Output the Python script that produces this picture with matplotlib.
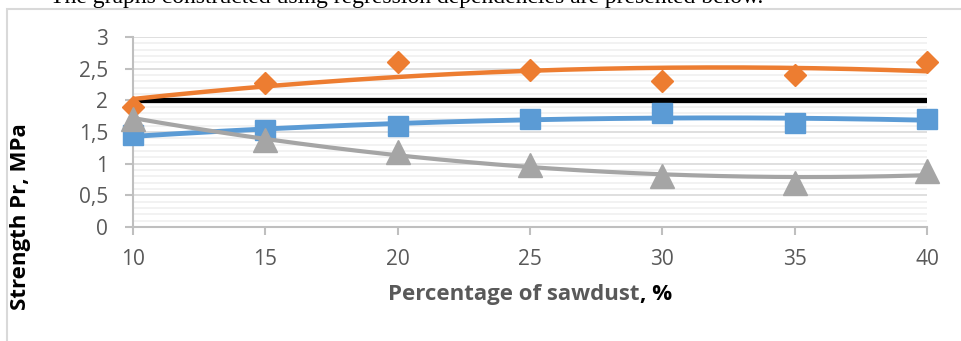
import numpy as np
import matplotlib
matplotlib.use('Agg')
from matplotlib import pyplot as plt
from matplotlib.patches import Rectangle
from matplotlib.ticker import MultipleLocator

# data
sawdust = [10, 15, 20, 25, 30, 35, 40]
orange_vals = [1.9, 2.28, 2.6, 2.48, 2.3, 2.4, 2.6]
blue_vals = [1.45, 1.53, 1.6, 1.7, 1.8, 1.65, 1.7]
gray_vals = [1.7, 1.38, 1.19, 0.98, 0.8, 0.7, 0.88]
black_vals = [2, 2, 2, 2, 2, 2, 2]
yticks = [0, 0.5, 1, 1.5, 2, 2.5, 3]
ytick_labels = ['0', '0,5', '1', '1,5', '2', '2,5', '3']
xticks = [10, 15, 20, 25, 30, 35, 40]

tick_col = '#595959'
grid_col = '#d9d9d9'
minor_col = '#f0f0f0'

fig = plt.figure(figsize=(9.62, 3.41), dpi=100)

# paper text cut off at the top (as in the source)
fig.text(50 / 962, 1 - 3 / 341,
         'The graphs constructed using regression dependencies are presented below.',
         family='Liberation Serif', fontsize=17, va='baseline', ha='left')

# chart frame
fig.patches.append(Rectangle((7 / 962, -0.1), 1.2, 1 - 8.5 / 341 + 0.1,
                             transform=fig.transFigure, fill=False,
                             edgecolor=grid_col, lw=1.5))

ax = fig.add_axes([133 / 962, 1 - 227 / 341, (927 - 133) / 962, (227 - 37) / 341])

x = np.array(sawdust, dtype=float)
xs = np.linspace(10, 40, 200)

def trend(vals):
    # polynomial trend line (2nd order) like excel
    p = np.polyfit(x, vals, 2)
    return np.polyval(p, xs)

ax.plot(x, black_vals, color='black', lw=3.8, solid_capstyle='round', zorder=3)

ax.plot(xs, trend(blue_vals), color='#5B9BD5', lw=3.5, zorder=4)
ax.plot(x, blue_vals, 's', color='#5B9BD5', ms=14, zorder=4, clip_on=False)

ax.plot(xs, trend(orange_vals), color='#ED7D31', lw=3.2, zorder=5)
ax.plot(x, orange_vals, 'D', color='#ED7D31', ms=11, zorder=5, clip_on=False)

ax.plot(xs, trend(gray_vals), color='#A5A5A5', lw=3, zorder=6)
ax.plot(x, gray_vals, '^', color='#A5A5A5', ms=17, zorder=6, clip_on=False)

ax.set_xlim(10, 40)
ax.set_ylim(0, 3)
ax.set_xticks(xticks)
ax.set_yticks(yticks)
ax.set_yticklabels(ytick_labels)
ax.yaxis.set_minor_locator(MultipleLocator(0.1))
ax.grid(True, which='major', axis='y', color=grid_col, lw=1.2)
ax.grid(True, which='minor', axis='y', color=minor_col, lw=1.2)
ax.set_axisbelow(True)

for s in ['top', 'right']:
    ax.spines[s].set_visible(False)
for s in ['left', 'bottom']:
    ax.spines[s].set_color('#bfbfbf')
    ax.spines[s].set_linewidth(1.5)

ax.tick_params(axis='both', which='major', colors='#bfbfbf', labelcolor=tick_col,
               labelsize=15, length=6, width=1.5)
ax.tick_params(axis='x', pad=10)
ax.tick_params(axis='y', pad=12)
ax.tick_params(which='minor', length=0)
for lab in ax.get_xticklabels() + ax.get_yticklabels():
    lab.set_family('Open Sans')

# axis titles, the x title has a black ", %" tail
xt = fig.text(388 / 962, 1 - 300 / 341, 'Percentage of sawdust', family='Open Sans',
              fontsize=16, fontweight='bold', color=tick_col, va='baseline', ha='left')
ax.annotate(', %', xy=(1, 0), xycoords=xt, va='bottom', ha='left',
            family='Open Sans', fontsize=16, fontweight='bold', color='black',
            annotation_clip=False)
fig.text(21 / 962, 1 - 217 / 341, 'Strength Pr, MPa', family='Open Sans',
         fontsize=16, fontweight='bold', color='black', va='center', ha='center',
         rotation=90)

plt.savefig('out.png', dpi=100)
plt.close()
